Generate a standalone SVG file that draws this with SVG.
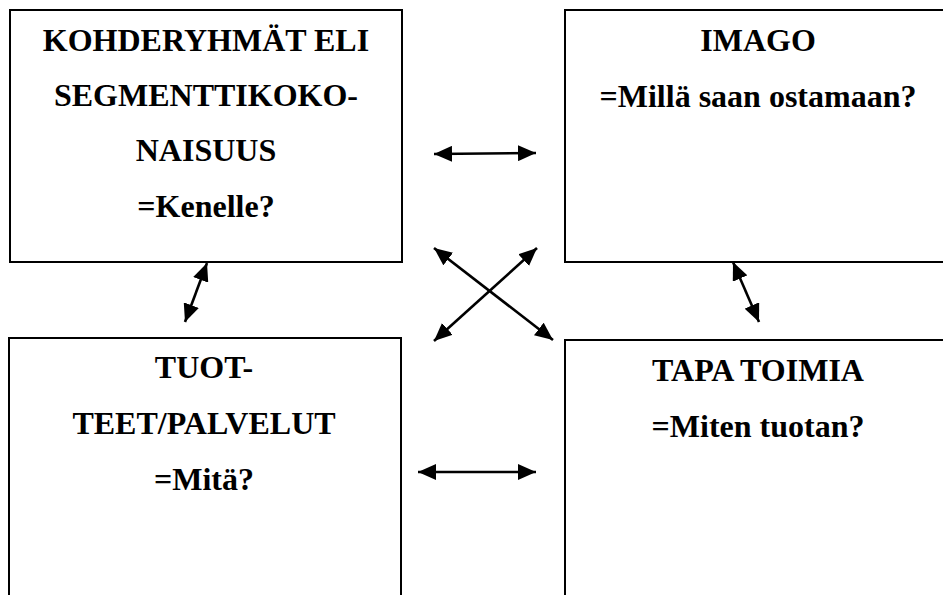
<svg xmlns="http://www.w3.org/2000/svg" width="943" height="595" viewBox="0 0 943 595">
<style>
.box{fill:#fff;stroke:#000;stroke-width:2}
.t{font-weight:bold;font-size:32px;fill:#000;text-anchor:middle}
.c{stroke:#000;stroke-width:2.6;fill:none;marker-start:url(#ah);marker-end:url(#ah)}
</style>
<defs>
<marker id="ah" markerUnits="userSpaceOnUse" markerWidth="19" markerHeight="16" refX="18" refY="8" orient="auto-start-reverse" viewBox="0 0 19 16">
<path d="M0,0 L18,8 L0,16 z" fill="#000"/>
</marker>
</defs>
<rect width="943" height="595" fill="#fff"/>
<g font-family="Liberation Serif, Times New Roman, DejaVu Serif, serif">
<g id="kohderyhmat">
<rect class="box" x="10" y="10" width="392" height="252"/>
<text class="t" x="206" y="51">KOHDERYHMÄT ELI</text>
<text class="t" x="206" y="106">SEGMENTTIKOKO-</text>
<text class="t" x="206" y="161">NAISUUS</text>
<text class="t" x="206" y="217">=Kenelle?</text>
</g>
<g id="imago">
<rect class="box" x="565" y="10" width="390" height="252"/>
<text class="t" x="758" y="51">IMAGO</text>
<text class="t" x="758" y="107">=Millä saan ostamaan?</text>
</g>
<g id="tuotteet">
<rect class="box" x="9" y="338" width="392" height="270"/>
<text class="t" x="204" y="378">TUOT-</text>
<text class="t" x="204" y="434">TEET/PALVELUT</text>
<text class="t" x="204" y="490">=Mitä?</text>
</g>
<g id="tapa-toimia">
<rect class="box" x="565" y="340" width="390" height="270"/>
<text class="t" x="758" y="381">TAPA TOIMIA</text>
<text class="t" x="758" y="437">=Miten tuotan?</text>
</g>
</g>
<g id="connectors">
<line class="c" x1="434" y1="154" x2="536" y2="153"/>
<line class="c" x1="418" y1="472" x2="536" y2="472"/>
<line class="c" x1="434" y1="248" x2="553" y2="340"/>
<line class="c" x1="537" y1="248" x2="434" y2="341"/>
<line class="c" x1="207" y1="263" x2="185" y2="322"/>
<line class="c" x1="733" y1="262" x2="759" y2="322"/>
</g>
</svg>
